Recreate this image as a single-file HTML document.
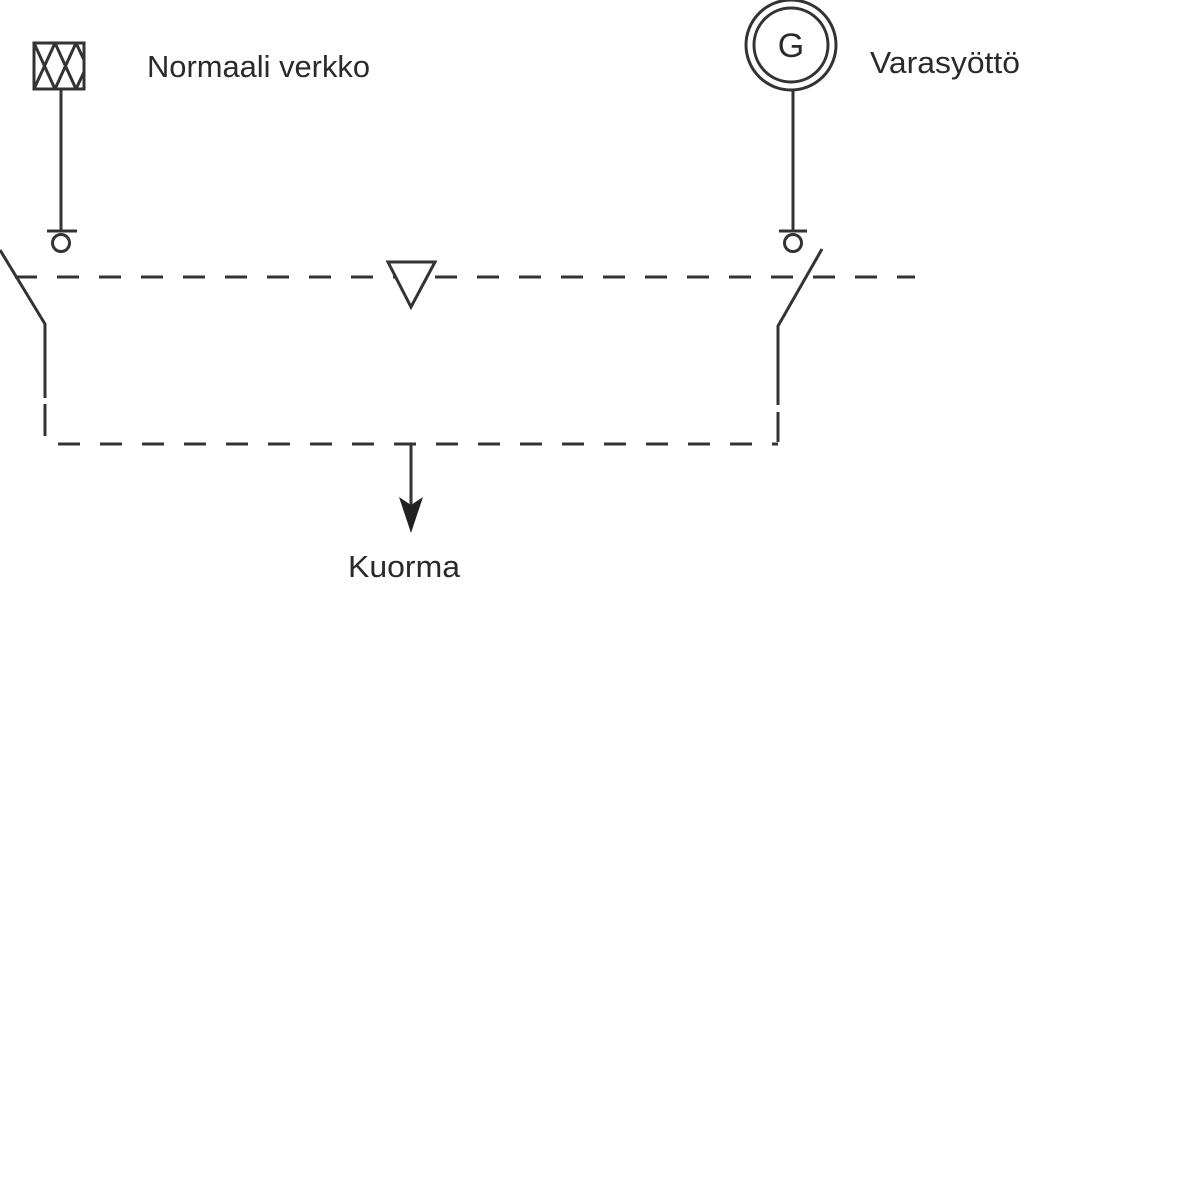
<!DOCTYPE html>
<html><head><style>
html,body{margin:0;padding:0;background:#fff;width:1200px;height:1200px;overflow:hidden}
text{font-family:"Liberation Sans",Arial,sans-serif;fill:#2a2a2a}
</style></head><body>
<svg width="1200" height="1200" viewBox="0 0 1200 1200" xmlns="http://www.w3.org/2000/svg">
<g stroke="#333" stroke-width="3" fill="none">
<rect x="34" y="43" width="50" height="46"/>
<path d="M34 43 L55 89 M55 43 L34 89 M55 43 L76 89 M76 43 L55 89 M76 43 L84 60 M76 89 L84 72"/>
<line x1="61" y1="89" x2="61" y2="231"/>
<line x1="47" y1="231" x2="77" y2="231"/>
<circle cx="61" cy="243" r="8.5"/>
<polyline points="0,250 45,324 45,398"/>
<line x1="45" y1="404" x2="45" y2="436" />
<circle cx="791" cy="45" r="45"/>
<circle cx="791" cy="45" r="37"/>
<line x1="793" y1="90" x2="793" y2="231"/>
<line x1="779" y1="231" x2="807" y2="231"/>
<circle cx="793" cy="243" r="8.5"/>
<polyline points="822,249 778,326 778,405"/>
<line x1="778" y1="412" x2="778" y2="442"/>
<line x1="15" y1="277" x2="915" y2="277" stroke-dasharray="22 20"/>
<line x1="58" y1="444" x2="778" y2="444" stroke-dasharray="22 20"/>
<polygon points="388,262 435,262 411,307" fill="#fff"/>
<line x1="411" y1="444" x2="411" y2="510"/>
</g>
<polygon points="399,497 411,533 423,497 411,505" fill="#222"/>
<text x="147" y="77" font-size="31" textLength="223" lengthAdjust="spacingAndGlyphs">Normaali verkko</text>
<text x="870" y="73" font-size="31" textLength="150" lengthAdjust="spacingAndGlyphs">Varasyöttö</text>
<text x="348" y="577" font-size="31" textLength="112" lengthAdjust="spacingAndGlyphs">Kuorma</text>
<text x="791" y="57" font-size="34" text-anchor="middle">G</text>
</svg>
</body></html>
